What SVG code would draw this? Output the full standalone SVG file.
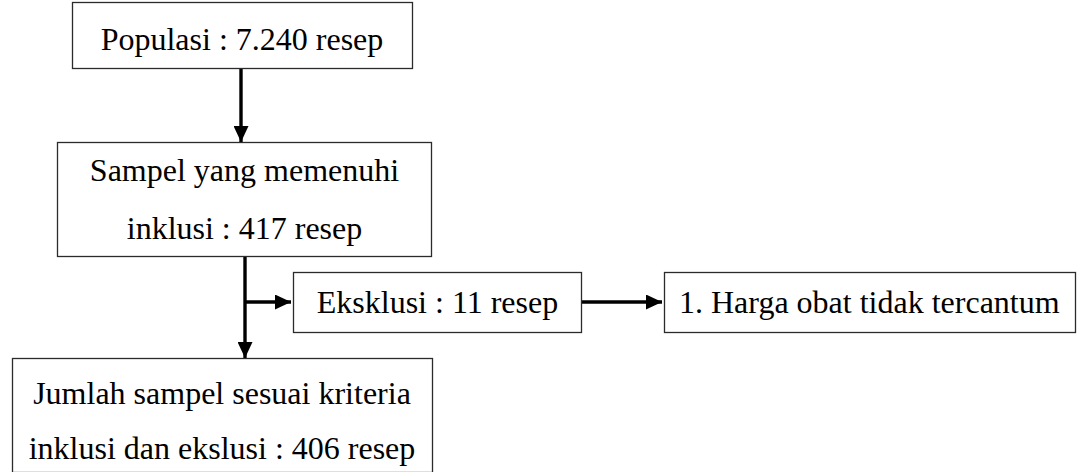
<svg xmlns="http://www.w3.org/2000/svg" width="1078" height="472" viewBox="0 0 1078 472">
  <style>
    .box { fill: #ffffff; stroke: #2b2b2b; stroke-width: 1.3; }
    .label { font-family: "Liberation Serif", "Times New Roman", serif; font-size: 32px; fill: #000000; }
    .mid { text-anchor: middle; }
    .wire { fill: none; stroke: #000000; stroke-width: 3.4; }
  </style>
  <defs>
    <marker id="head" markerUnits="userSpaceOnUse" markerWidth="16" markerHeight="15" refX="16" refY="7.5" orient="auto">
      <path d="M0,0 L16,7.5 L0,15 Z" fill="#000000"/>
    </marker>
  </defs>
  <rect width="1078" height="472" fill="#ffffff"/>

  <!-- connectors -->
  <g id="connectors">
    <line class="wire" x1="241" y1="69" x2="241" y2="142" marker-end="url(#head)"/>
    <line class="wire" x1="245" y1="257" x2="245" y2="358" marker-end="url(#head)"/>
    <line class="wire" x1="245" y1="302" x2="291" y2="302" marker-end="url(#head)"/>
    <line class="wire" x1="582" y1="302" x2="662" y2="302" marker-end="url(#head)"/>
  </g>

  <g id="populasi">
    <rect class="box" x="72.5" y="2.5" width="340" height="66"/>
    <text class="label mid" x="242" y="50">Populasi : 7.240 resep</text>
  </g>

  <g id="sampel">
    <rect class="box" x="57.5" y="142.5" width="374" height="114"/>
    <text class="label mid" x="244.5" y="181">Sampel yang memenuhi</text>
    <text class="label mid" x="244.5" y="239">inklusi : 417 resep</text>
  </g>

  <g id="eksklusi">
    <rect class="box" x="293.5" y="272.5" width="288" height="60"/>
    <text class="label mid" x="437.5" y="313">Eksklusi : 11 resep</text>
  </g>

  <g id="alasan">
    <rect class="box" x="664.5" y="272.5" width="411" height="60"/>
    <text class="label" x="679" y="313">1. Harga obat tidak tercantum</text>
  </g>

  <g id="jumlah">
    <rect class="box" x="12.5" y="358.5" width="420" height="114"/>
    <text class="label mid" x="222" y="404">Jumlah sampel sesuai kriteria</text>
    <text class="label mid" x="222" y="459">inklusi dan ekslusi : 406 resep</text>
  </g>
</svg>
